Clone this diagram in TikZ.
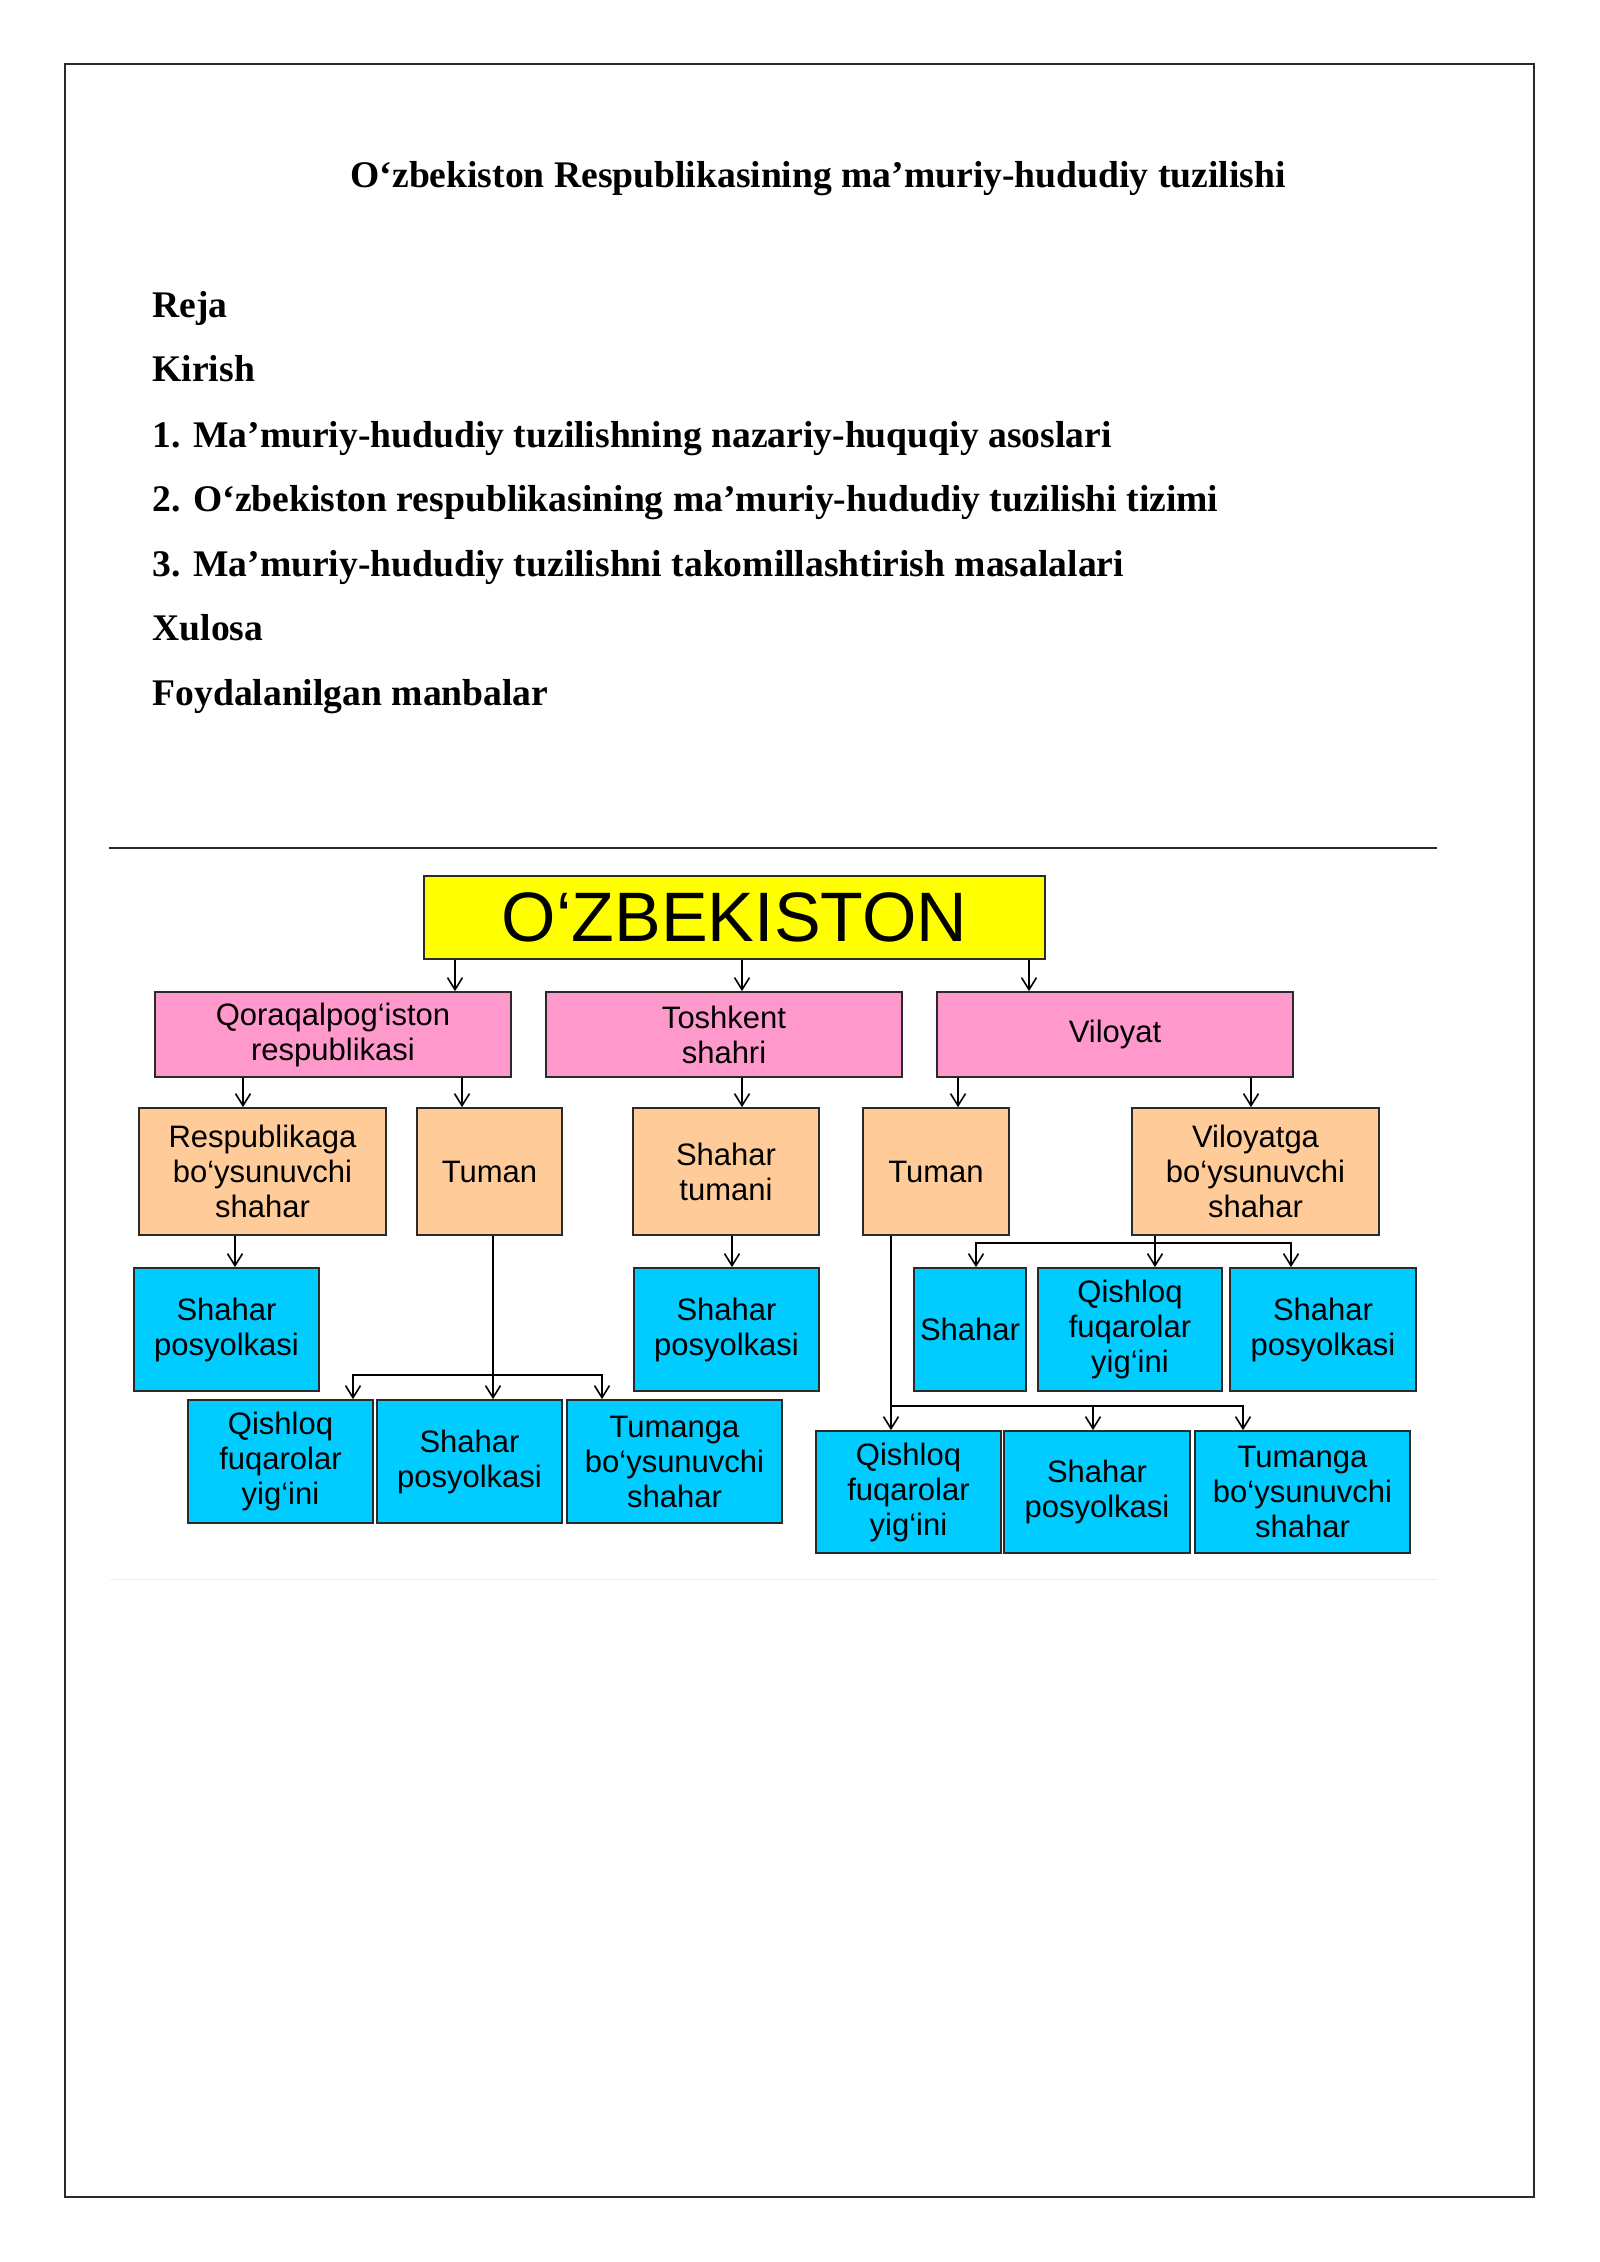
\documentclass[tikz,border=0pt]{standalone}
\usepackage{fontspec}
\setmainfont{Liberation Serif}
\newfontfamily\arialf{Liberation Sans}
\usetikzlibrary{arrows.meta}
\definecolor{uzyellow}{HTML}{FFFF00}
\definecolor{uzpink}{HTML}{FF99CC}
\definecolor{uzpeach}{HTML}{FFCC99}
\definecolor{uzblue}{HTML}{00CCFF}
\definecolor{edge}{HTML}{2A2A2A}
\tikzset{
  lvl/.style={draw=edge,line width=1.8pt,inner sep=0pt,align=center,
    font=\arialf\fontsize{31}{35}\selectfont},
  topbox/.style={lvl,fill=uzyellow,font=\arialf\fontsize{70}{72}\selectfont},
  pinkbox/.style={lvl,fill=uzpink,minimum width=356pt,minimum height=85pt},
  peachbox/.style={lvl,fill=uzpeach,minimum height=127pt},
  bluebox/.style={lvl,fill=uzblue,minimum height=123pt},
  arr/.style={line width=1.6pt,-{Straight Barb[length=12pt,width=15pt,line width=1.6pt]}},
  plan/.style={anchor=base west,font=\bfseries\fontsize{37.6}{40}\selectfont}
}
\begin{document}
\begin{tikzpicture}[x=1pt,y=-1pt]
  \useasboundingbox (0,0) rectangle (1600,2262);
  \draw[edge,line width=1.5pt] (65,64) rectangle (1534,2197);
  % Title and plan of the paper
  \node[plan]   (title)   at (347,187) {O‘zbekiston Respublikasining ma’muriy-hududiy tuzilishi};
  \node[plan]   (reja)    at (149,317) {Reja};
  \node[plan]   (kirish)  at (149,381) {Kirish};
  \node[plan]   (p1)      at (149,447) {1. Ma’muriy-hududiy tuzilishning nazariy-huquqiy asoslari};
  \node[plan]   (p2)      at (149,511) {2. O‘zbekiston respublikasining ma’muriy-hududiy tuzilishi tizimi};
  \node[plan]   (p3)      at (149,576) {3. Ma’muriy-hududiy tuzilishni takomillashtirish masalalari};
  \node[plan]   (xulosa)  at (149,640) {Xulosa};
  \node[plan]   (manba)   at (149,705) {Foydalanilgan manbalar};
  % Slide with the scheme
  \draw[edge,line width=1.3pt] (109,848) -- (1437,848);
  \draw[gray!12,line width=1pt] (110,1579) -- (1437,1579);
  \node[topbox,minimum width=621pt,minimum height=83pt] (UZ) at (734.5,917.5) {O‘ZBEKISTON};
  \node[pinkbox] (QR) at (333,1034.5)  {Qoraqalpog‘iston\\respublikasi};
  \node[pinkbox] (TS) at (724,1034.5)  {Toshkent\\shahri};
  \node[pinkbox] (VL) at (1115,1034.5) {Viloyat};
  \node[peachbox,minimum width=247pt] (RS)  at (262.5,1171.5) {Respublikaga\\bo‘ysunuvchi\\shahar};
  \node[peachbox,minimum width=145pt] (TU1) at (489.5,1171.5) {Tuman};
  \node[peachbox,minimum width=186pt] (ST)  at (726,1171.5)   {Shahar\\tumani};
  \node[peachbox,minimum width=146pt] (TU2) at (936,1171.5)   {Tuman};
  \node[peachbox,minimum width=247pt] (VS)  at (1255.5,1171.5) {Viloyatga\\bo‘ysunuvchi\\shahar};
  \node[bluebox,minimum width=185pt] (SP1) at (226.5,1329.5) {Shahar\\posyolkasi};
  \node[bluebox,minimum width=185pt] (SP2) at (726.5,1329.5) {Shahar\\posyolkasi};
  \node[bluebox,minimum width=112pt] (SH)  at (970,1329.5)   {Shahar};
  \node[bluebox,minimum width=184pt] (QF2) at (1130,1329.5)  {Qishloq\\fuqarolar\\yig‘ini};
  \node[bluebox,minimum width=186pt] (SP4) at (1323,1329.5)  {Shahar\\posyolkasi};
  \node[bluebox,minimum width=185pt] (QF1) at (280.5,1461.5) {Qishloq\\fuqarolar\\yig‘ini};
  \node[bluebox,minimum width=185pt] (SP3) at (469.5,1461.5) {Shahar\\posyolkasi};
  \node[bluebox,minimum width=215pt] (TB1) at (674.5,1461.5) {Tumanga\\bo‘ysunuvchi\\shahar};
  \node[bluebox,minimum width=185pt,minimum height=122pt] (QF3) at (908.5,1492) {Qishloq\\fuqarolar\\yig‘ini};
  \node[bluebox,minimum width=186pt,minimum height=122pt] (SP5) at (1097,1492)  {Shahar\\posyolkasi};
  \node[bluebox,minimum width=215pt,minimum height=122pt] (TB2) at (1302.5,1492) {Tumanga\\bo‘ysunuvchi\\shahar};
  % x positions of the connectors
  \coordinate (a1) at (455,0);  \coordinate (a2) at (742,0);  \coordinate (a3) at (1029,0);
  \coordinate (c1) at (243,0);  \coordinate (c2) at (462,0);  \coordinate (c3) at (958,0);
  \coordinate (c4) at (1251,0); \coordinate (d1) at (235,0);  \coordinate (d2) at (732,0);
  \coordinate (t1) at (493,0);  \coordinate (t2) at (891,0);  \coordinate (v1) at (1155,0);
  \coordinate (b1l) at (353,1375); \coordinate (b1r) at (602,1375);
  \coordinate (b2m) at (1093,1406); \coordinate (b2r) at (1243,1406);
  \coordinate (b3l) at (976,1243); \coordinate (b3r) at (1291,1243);
  % O'zbekiston -> first level
  \draw[arr] (UZ.south -| a1) -- (QR.north -| a1);
  \draw[arr] (UZ.south -| a2) -- (TS.north -| a2);
  \draw[arr] (UZ.south -| a3) -- (VL.north -| a3);
  % first level -> second level
  \draw[arr] (QR.south -| c1) -- (RS.north -| c1);
  \draw[arr] (QR.south -| c2) -- (TU1.north -| c2);
  \draw[arr] (TS.south -| a2) -- (ST.north -| a2);
  \draw[arr] (VL.south -| c3) -- (TU2.north -| c3);
  \draw[arr] (VL.south -| c4) -- (VS.north -| c4);
  % second level -> third level
  \draw[arr] (RS.south -| d1) -- (SP1.north -| d1);
  \draw[arr] (ST.south -| d2) -- (SP2.north -| d2);
  \draw[arr] (TU1.south -| t1) -- (SP3.north -| t1);
  \draw[arr] (t1 |- b1l) -- (b1l) -- (b1l |- QF1.north);
  \draw[arr] (t1 |- b1r) -- (b1r) -- (b1r |- TB1.north);
  \draw[arr] (VS.south -| v1) -- (QF2.north -| v1);
  \draw[arr] (v1 |- b3l) -- (b3l) -- (b3l |- SH.north);
  \draw[arr] (v1 |- b3r) -- (b3r) -- (b3r |- SP4.north);
  \draw[arr] (TU2.south -| t2) -- (QF3.north -| t2);
  \draw[arr] (t2 |- b2r) -- (b2r) -- (b2r |- TB2.north);
  \draw[arr] (b2m) -- (b2m |- SP5.north);
\end{tikzpicture}
\end{document}
